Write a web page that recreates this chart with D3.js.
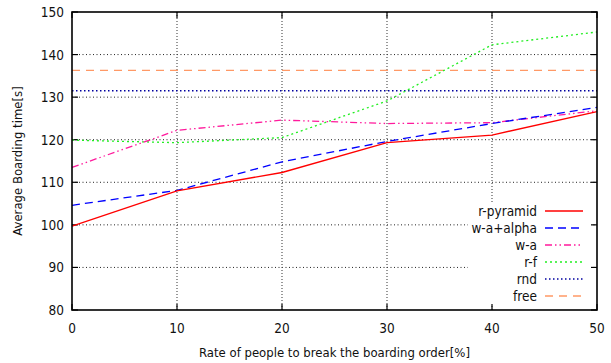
<!DOCTYPE html>
<html>
<head>
<meta charset="utf-8">
<script src="https://d3js.org/d3.v7.min.js"></script>
<style>
  body { margin: 0; background: #fff; }
  svg { display: block; font-family: "DejaVu Sans Condensed", "DejaVu Sans", sans-serif; }
</style>
</head>
<body>
<div id="app"></div>
<script>
// data
const rates = [0, 10, 20, 30, 40, 50];
const rPyramid = [99.7, 108.0, 112.3, 119.3, 121.1, 126.6];
const waAlpha  = [104.6, 108.1, 114.8, 119.6, 123.8, 127.6];
const wa       = [113.5, 122.2, 124.6, 123.8, 124.0, 126.8];
const rf       = [119.9, 119.3, 120.5, 129.1, 142.3, 145.3];
const rnd      = [131.5, 131.5, 131.5, 131.5, 131.5, 131.5];
const free     = [136.3, 136.3, 136.3, 136.3, 136.3, 136.3];
const xTicks = [0, 10, 20, 30, 40, 50];
const yTicks = [80, 90, 100, 110, 120, 130, 140, 150];

const series = [
  { name: "r-pyramid", values: rPyramid, color: "#ff0000", dash: null },
  { name: "w-a+alpha", values: waAlpha,  color: "#0000ff", dash: "8,5" },
  { name: "w-a",       values: wa,       color: "#ff1a9c", dash: "7,3,1.5,3,1.5,3" },
  { name: "r-f",       values: rf,       color: "#22ee22", dash: "2,3" },
  { name: "rnd",       values: rnd,      color: "#0000a0", dash: "1.5,2.5" },
  { name: "free",      values: free,     color: "#ff9966", dash: "8,6" }
];

const W = 611, H = 363;
const m = { left: 72, right: 14, top: 12, bottom: 53 };

const svg = d3.select("#app").append("svg").attr("width", W).attr("height", H);

const x = d3.scaleLinear().domain([0, 50]).range([m.left, W - m.right]);
const y = d3.scaleLinear().domain([80, 150]).range([H - m.bottom, m.top]);

// grid
svg.append("g").selectAll("line").data(yTicks.slice(1, -1)).join("line")
  .attr("x1", x(0)).attr("x2", x(50))
  .attr("y1", d => y(d)).attr("y2", d => y(d))
  .attr("stroke", "#222").attr("stroke-width", 1).attr("stroke-dasharray", "1,2.5");
svg.append("g").selectAll("line").data(xTicks.slice(1, -1)).join("line")
  .attr("x1", d => x(d)).attr("x2", d => x(d))
  .attr("y1", y(80)).attr("y2", y(150))
  .attr("stroke", "#555").attr("stroke-width", 1.2).attr("stroke-dasharray", "1,2");

// legend background hides the grid
svg.append("rect").attr("x", 468).attr("y", 202).attr("width", 124).attr("height", 103).attr("fill", "#fff");

// ticks on all four sides, pointing in
const tl = 6;
svg.append("g").selectAll("line").data(yTicks).join("line")
  .attr("x1", x(0)).attr("x2", x(0) + tl).attr("y1", d => y(d)).attr("y2", d => y(d))
  .attr("stroke", "#000").attr("stroke-width", 1.2);
svg.append("g").selectAll("line").data(yTicks).join("line")
  .attr("x1", x(50)).attr("x2", x(50) - tl).attr("y1", d => y(d)).attr("y2", d => y(d))
  .attr("stroke", "#000").attr("stroke-width", 1.2);
svg.append("g").selectAll("line").data(xTicks).join("line")
  .attr("x1", d => x(d)).attr("x2", d => x(d)).attr("y1", y(80)).attr("y2", y(80) - tl)
  .attr("stroke", "#000").attr("stroke-width", 1.2);
svg.append("g").selectAll("line").data(xTicks).join("line")
  .attr("x1", d => x(d)).attr("x2", d => x(d)).attr("y1", y(150)).attr("y2", y(150) + tl)
  .attr("stroke", "#000").attr("stroke-width", 1.2);

// tick labels
svg.append("g").selectAll("text").data(yTicks).join("text")
  .attr("x", x(0) - 8).attr("y", d => y(d) + 5)
  .attr("text-anchor", "end").attr("font-size", 13.5).attr("fill", "#111")
  .text(d => d);
svg.append("g").selectAll("text").data(xTicks).join("text")
  .attr("x", d => x(d)).attr("y", y(80) + 23)
  .attr("text-anchor", "middle").attr("font-size", 13.5).attr("fill", "#111")
  .text(d => d);

// axis titles
svg.append("text").attr("x", (x(0) + x(50)) / 2).attr("y", H - 6)
  .attr("text-anchor", "middle").attr("font-size", 13).attr("fill", "#111")
  .text("Rate of people to break the boarding order[%]");
svg.append("text").attr("transform", `translate(22,${(y(80) + y(150)) / 2}) rotate(-90)`)
  .attr("text-anchor", "middle").attr("font-size", 13).attr("fill", "#111")
  .text("Average Boarding time[s]");

// series
const line = d3.line().x((d, i) => x(rates[i])).y(d => y(d));
svg.append("g").selectAll("path").data(series.slice().reverse()).join("path")
  .attr("d", d => line(d.values))
  .attr("fill", "none").attr("stroke", d => d.color).attr("stroke-width", 1.3)
  .attr("stroke-dasharray", d => d.dash);

// border
svg.append("rect").attr("x", x(0)).attr("y", y(150))
  .attr("width", x(50) - x(0)).attr("height", y(80) - y(150))
  .attr("fill", "none").attr("stroke", "#000").attr("stroke-width", 1.6);

// legend
const lg = svg.append("g").selectAll("g").data(series).join("g")
  .attr("transform", (d, i) => `translate(0,${211 + i * 17})`);
lg.append("text").attr("x", 537).attr("y", 5).attr("text-anchor", "end")
  .attr("font-size", 13.5).attr("fill", "#111").text(d => d.name);
lg.append("line").attr("x1", 545).attr("x2", 583).attr("y1", 0).attr("y2", 0)
  .attr("stroke", d => d.color).attr("stroke-width", 1.3).attr("stroke-dasharray", d => d.dash);
</script>
</body>
</html>
